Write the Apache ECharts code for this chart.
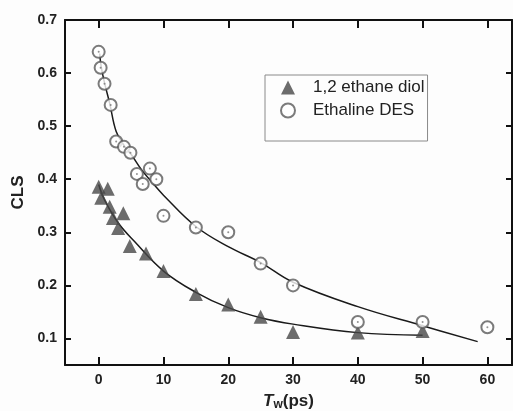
<!DOCTYPE html>
<html>
<head>
<meta charset="utf-8">
<script src="https://cdn.jsdelivr.net/npm/echarts@6/dist/echarts.min.js"></script>
<style>
html,body{margin:0;padding:0;background:#fdfdfd;}
#chart{width:513px;height:411px;}
</style>
</head>
<body>
<div id="chart"></div>
<script>
const seriesNames = ['1,2 ethane diol', 'Ethaline DES'];
const xTicks = [0, 10, 20, 30, 40, 50, 60];
const yTicks = [0.1, 0.2, 0.3, 0.4, 0.5, 0.6, 0.7];

const diolPoints = [[0,0.386],[0.4,0.365],[1.4,0.382],[1.7,0.348],[2.2,0.327],[3,0.308],[3.8,0.336],[4.8,0.274],[7.3,0.26],[10,0.227],[15,0.184],[20,0.164],[25,0.141],[30,0.112],[40,0.111],[50,0.114]];
const desPoints = [[0,0.64],[0.3,0.61],[0.9,0.58],[1.85,0.54],[2.7,0.471],[3.9,0.461],[4.9,0.45],[5.9,0.41],[6.8,0.391],[7.9,0.42],[8.9,0.40],[10,0.331],[15,0.309],[20,0.30],[25,0.241],[30,0.20],[40,0.131],[50,0.131],[60,0.121]];
const diolFit = [[0,0.39],[0.9,0.361],[3,0.318],[5.5,0.283],[10,0.227],[15,0.187],[20,0.158],[25,0.139],[30,0.127],[40,0.111],[50,0.106]];
const desFit = [[0.15,0.637],[0.4,0.611],[0.93,0.58],[1.7,0.543],[2.7,0.49],[4,0.462],[5,0.447],[6.6,0.418],[8.1,0.396],[10,0.37],[15,0.311],[20,0.273],[25,0.243],[30,0.206],[40,0.16],[50,0.124],[58.5,0.094]];

const xMin = -5.2, xMax = 63.8, yMin = 0.05, yMax = 0.7;
const FONT = '"Liberation Sans", Arial, sans-serif';

const chart = echarts.init(document.getElementById('chart'), null, {renderer: 'canvas'});

function mkX(pos, show) {
  return {
    type: 'value', position: pos, min: xMin, max: xMax,
    axisLine: {show: true, onZero: false, lineStyle: {color: '#111', width: 2}},
    axisTick: {show: true, inside: true, length: 8, customValues: xTicks, lineStyle: {color: '#111', width: 2}},
    axisLabel: {show: show, customValues: xTicks, margin: 8, color: '#222', fontFamily: FONT, fontWeight: 'bold', fontSize: 14},
    splitLine: {show: false}
  };
}
function mkY(pos, show) {
  return {
    type: 'value', position: pos, min: yMin, max: yMax,
    axisLine: {show: true, onZero: false, lineStyle: {color: '#111', width: 2}},
    axisTick: {show: true, inside: true, length: 6, customValues: yTicks, lineStyle: {color: '#111', width: 2}},
    axisLabel: {show: show, customValues: yTicks, margin: 8, color: '#222', fontFamily: FONT, fontWeight: 'bold', fontSize: 14,
      formatter: v => v.toFixed(1)},
    splitLine: {show: false}
  };
}

const xb = mkX('bottom', true);
xb.name = '{i|T}{s|w}{n|(ps)}';
xb.nameLocation = 'middle';
xb.nameGap = 26;
xb.nameTextStyle = {
  rich: {
    i: {fontFamily: FONT, fontStyle: 'italic', fontWeight: 'bold', fontSize: 17, color: '#222'},
    s: {fontFamily: FONT, fontWeight: 'bold', fontSize: 12, color: '#222', verticalAlign: 'bottom', padding: [8, 0, 0, 0]},
    n: {fontFamily: FONT, fontWeight: 'bold', fontSize: 17, color: '#222'}
  }
};
const yl = mkY('left', true);
yl.name = 'CLS';
yl.nameLocation = 'middle';
yl.nameGap = 36;
yl.nameRotate = 90;
yl.nameTextStyle = {fontFamily: FONT, fontWeight: 'bold', fontSize: 17, color: '#222'};

const option = {
  backgroundColor: '#fdfdfd',
  animation: false,
  grid: {left: 65, top: 20, right: 1, bottom: 46, containLabel: false, outerBoundsMode: 'none'},
  xAxis: [xb, mkX('top', false)],
  yAxis: [yl, mkY('right', false)],
  legend: {
    left: 265, top: 75, orient: 'vertical',
    padding: [4, 3, 22, 15], itemGap: 6, itemWidth: 14, itemHeight: 14,
    borderColor: '#8a8a8a', borderWidth: 1, backgroundColor: 'transparent',
    textStyle: {fontFamily: FONT, fontSize: 17, color: '#222', padding: [0, 0, 0, 13]},
    data: [
      {name: seriesNames[0], icon: 'triangle'},
      {name: seriesNames[1], icon: 'emptyCircle', itemStyle: {borderWidth: 1}}
    ]
  },
  series: [
    {name: 'fitDiol', type: 'line', data: diolFit, smooth: 0.4, showSymbol: false, symbol: 'none',
      lineStyle: {color: '#1a1a1a', width: 1.5}, z: 2, silent: true},
    {name: 'fitDes', type: 'line', data: desFit, smooth: 0.4, showSymbol: false, symbol: 'none',
      lineStyle: {color: '#1a1a1a', width: 1.5}, z: 2, silent: true},
    {name: seriesNames[0], type: 'scatter', data: diolPoints, symbol: 'triangle', symbolSize: 14,
      itemStyle: {color: '#474747'}, z: 3},
    {name: seriesNames[1], type: 'scatter', data: desPoints, symbol: 'emptyCircle', symbolSize: 12,
      itemStyle: {color: '#5a5a5a', borderWidth: 1.2}, z: 3},
    {name: 'desDot', type: 'scatter', data: desPoints, symbol: 'circle', symbolSize: 2,
      itemStyle: {color: '#777'}, z: 4, silent: true}
  ]
};
chart.setOption(option);
</script>
</body>
</html>
